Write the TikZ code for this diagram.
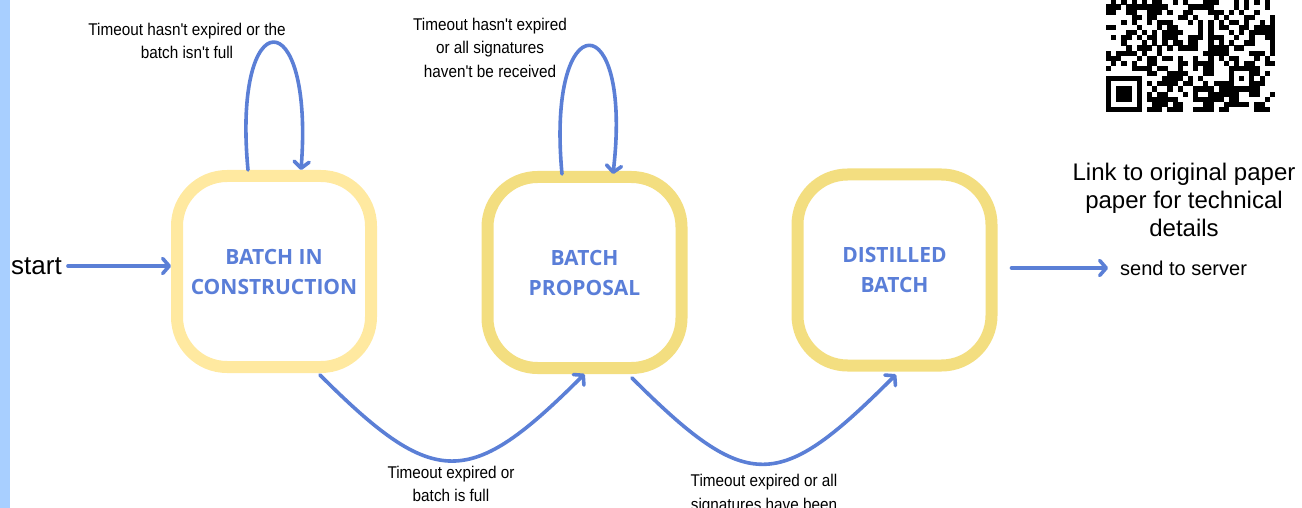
\documentclass[tikz,border=0pt]{standalone}
\usepackage{fontspec}
\setmainfont{Liberation Sans}
\newfontfamily\labelfont{Liberation Sans}[FakeStretch=0.9]
\newfontfamily\statefont{Open Sans}
\usetikzlibrary{arrows.meta,calc}

\definecolor{edgeblue}{RGB}{91,127,214}
\definecolor{textblue}{RGB}{90,126,216}
\definecolor{paleyellow}{RGB}{255,233,160}
\definecolor{goldyellow}{RGB}{243,222,128}
\definecolor{barblue}{RGB}{168,207,255}

\tikzset{
  statebox/.style={draw, fill=white, rounded corners=50pt, line width=12pt,
    minimum width=194pt, minimum height=191pt, inner sep=0pt, align=center,
    font=\statefont\bfseries\fontsize{21}{30}\selectfont, text=textblue},
  link/.style={draw=edgeblue, line width=3.6pt, line cap=round, line join=round,
    -{Straight Barb[length=6.5pt,width=15pt,line cap=round,line join=round]}},
  cond/.style={font=\labelfont\fontsize{17}{23.5}\selectfont, align=center, inner sep=0pt},
  note/.style={inner sep=0pt, align=center},
}

\begin{document}
\begin{tikzpicture}[x=1pt, y=-1pt]
  \useasboundingbox (0,0) rectangle (1302,508);
  \clip (0,0) rectangle (1302,508);

  % side bar
  \fill[barblue] (0,0) rectangle (10,508);

  % states
  \node[statebox, draw=paleyellow] (b1) at (274,271.5) {BATCH IN\\CONSTRUCTION};
  \node[statebox, draw=goldyellow] (b2) at (584.5,272.5) {BATCH\\PROPOSAL};
  \node[statebox, draw=goldyellow] (b3) at (894.5,270) {DISTILLED\\BATCH};

  % entry and exit
  \node[note, font=\fontsize{26}{30}\selectfont] (start) at (36.5,266) {start};
  \node[note, font=\fontsize{20}{24}\selectfont, anchor=west] (send) at (1120,268) {send to server};
  \node[note, font=\fontsize{24}{28}\selectfont] (paper) at (1184,200)
    {Link to original paper\\paper for technical\\details};

  \draw[link, shorten <=6pt] (start.east) -- (start.east -| b1.west);
  \draw[link, shorten <=14pt, shorten >=12pt] (b3.east |- send.west) -- (send.west);

  % self loops
  \draw[link] ($(b1.north)+(-26,0)$) .. controls +(-16,-170) and +(13,-170) .. ($(b1.north)+(27,0)$);
  \draw[link] ($(b2.north)+(-22.5,3)$) .. controls +(-16,-171) and +(20,-171) .. ($(b2.north)+(28.5,3)$);

  % transitions
  \draw[link] ($(b1.south)+(46,2)$) .. controls +(115,115) and +(-115,115) .. (b2.south);
  \draw[link] ($(b2.south)+(47.5,4)$) .. controls +(117,117) and +(-117,117) .. ($(b3.south)+(1.5,3)$);

  % transition conditions
  \node[cond] (c1) at (187,41) {Timeout hasn't expired or the\\batch isn't full};
  \node[cond] (c2) at (490,47.5) {Timeout hasn't expired\\or all signatures\\haven't be received};
  \node[cond] (c3) at (451,484) {Timeout expired or\\batch is full};
  \node[cond] (c4) at (764,494) {Timeout expired or all\\signatures have been};

  % QR code (modules of 5.12pt, top rows run off the page)
  \pgfmathsetseed{271}
  \foreach \r in {11,...,32}{
    \foreach \c in {0,...,32}{
      \pgfmathtruncatemacro\qskip{((\r>=25)&&(\c<=7)) || ((\r>=24)&&(\r<=28)&&(\c>=24)&&(\c<=28)) || (\c==6)}
      \ifnum\qskip=0
        \pgfmathtruncatemacro\qbit{rnd<0.5}
        \ifnum\qbit=1
          \fill (1106+\c*5.12,-56.96+\r*5.12) rectangle ++(5.2,5.2);
        \fi
      \fi
    }
  }
  % timing column
  \foreach \r in {12,14,...,24}{
    \fill (1106+6*5.12,-56.96+\r*5.12) rectangle ++(5.2,5.2);
  }
  % finder pattern
  \fill (1106,-56.96+26*5.12) rectangle ++(35.84,35.84);
  \fill[white] (1106+5.12,-56.96+27*5.12) rectangle ++(25.6,25.6);
  \fill (1106+10.24,-56.96+28*5.12) rectangle ++(15.36,15.36);
  % alignment pattern
  \fill (1106+24*5.12,-56.96+24*5.12) rectangle ++(25.6,25.6);
  \fill[white] (1106+25*5.12,-56.96+25*5.12) rectangle ++(15.36,15.36);
  \fill (1106+26*5.12,-56.96+26*5.12) rectangle ++(5.12,5.12);
\end{tikzpicture}
\end{document}
